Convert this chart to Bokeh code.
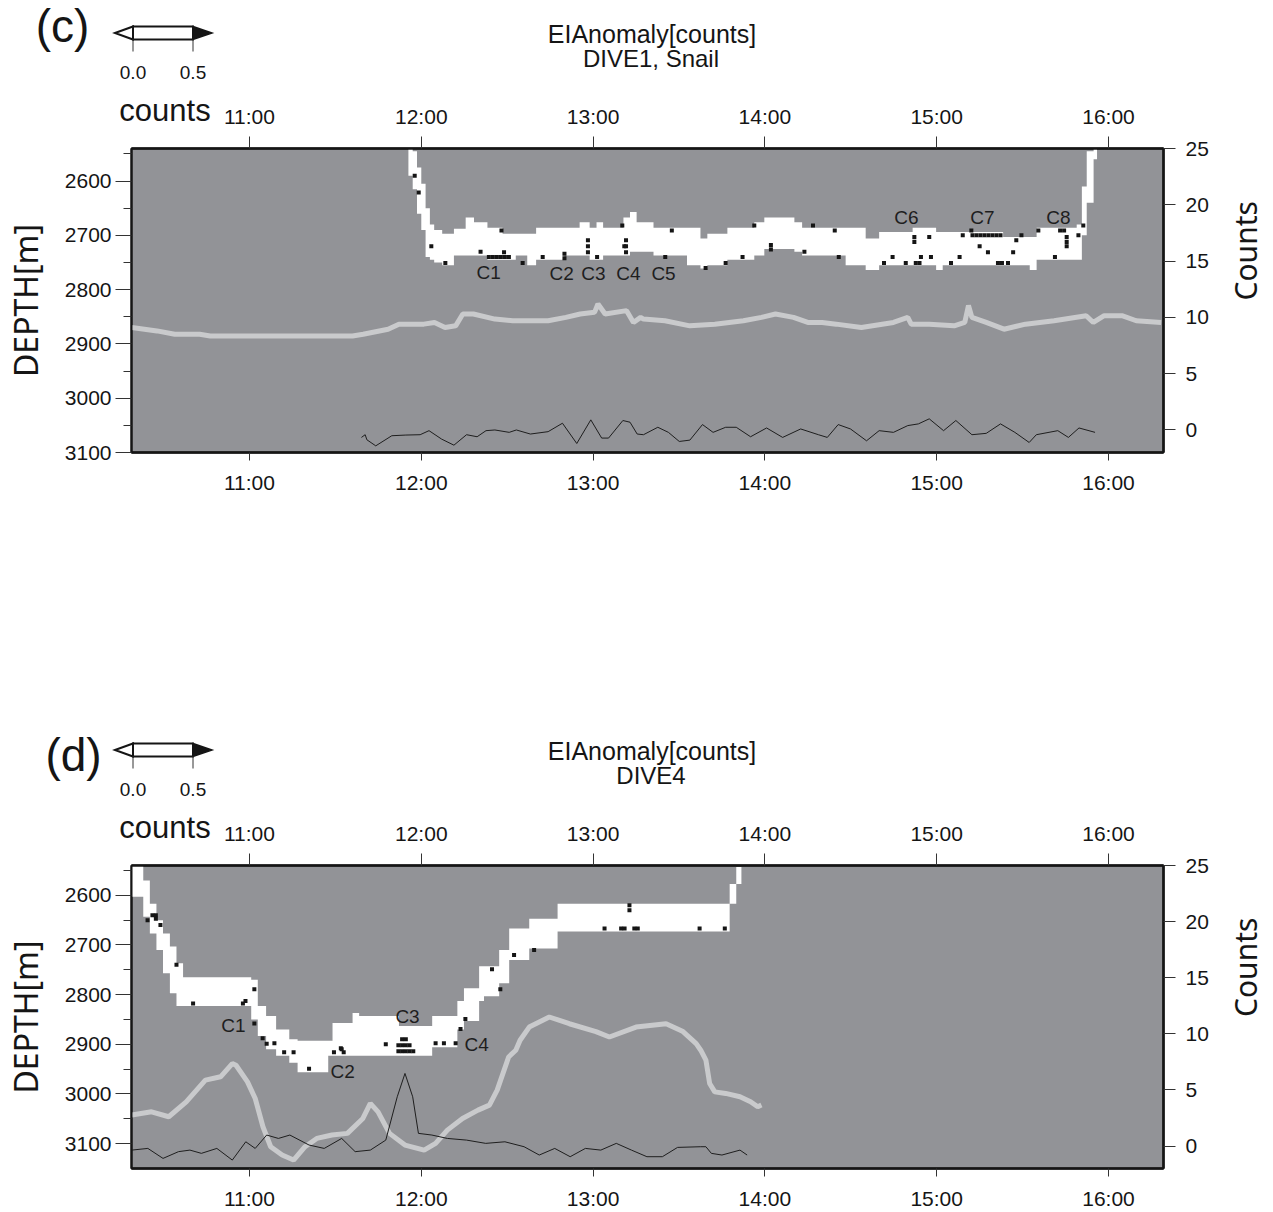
import math
from bokeh.plotting import figure
from bokeh.models import Range1d, LinearAxis, FixedTicker, Div
from bokeh.layouts import column
from bokeh.embed import file_html
from bokeh.resources import INLINE
from bokeh.core.properties import value

# ---------------- data (times are minutes after 10:00) ----------------
tick_hours = [11, 12, 13, 14, 15, 16]
tick_labels = ["11:00", "12:00", "13:00", "14:00", "15:00", "16:00"]
depth_ticks = [2600, 2700, 2800, 2900, 3000, 3100]
depth_minor = [2550, 2650, 2750, 2850, 2950, 3050]
count_ticks = [0, 5, 10, 15, 20, 25]
colorbar_values = [0.0, 0.5]
colorbar_labels = ["0.0", "0.5"]

# Panel (c): DIVE1, Snail
band_c_t = [115.5, 117.0, 118.5, 120.0, 121.5, 123.0, 124.5, 127.3, 131.4, 135.5, 138.4, 143.1, 148.4,
            153.0, 157.0, 160.1, 164.8, 170.0, 175.3, 178.8, 181.2, 183.5, 190.6, 192.9, 195.2, 201.1,
            207.0, 212.8, 217.5, 219.9, 226.9, 236.3, 239.8, 244.5, 250.3, 253.0, 268.2, 275.2, 279.9,
            291.6, 299.8, 302.1, 323.2, 332.5, 334.9, 348.9, 350.7, 352.4, 354.8, 356.0]
band_c_top = [2540, 2545, 2575, 2605, 2650, 2680, 2690, 2697, 2688, 2667, 2676, 2686, 2697, 2697, 2697,
              2686, 2686, 2686, 2676, 2686, 2676, 2686, 2667, 2657, 2676, 2686, 2686, 2686, 2706, 2697,
              2686, 2676, 2667, 2667, 2676, 2686, 2686, 2706, 2694, 2686, 2694, 2694, 2703, 2703, 2686,
              2680, 2610, 2545, 2540, 2540]
band_c_bot = [2590, 2615, 2660, 2690, 2740, 2745, 2750, 2755, 2737, 2737, 2737, 2745, 2745, 2737, 2755,
              2745, 2745, 2737, 2737, 2745, 2745, 2737, 2737, 2730, 2730, 2737, 2737, 2755, 2761, 2755,
              2745, 2737, 2725, 2725, 2730, 2737, 2755, 2764, 2755, 2755, 2764, 2755, 2755, 2764, 2745,
              2745, 2700, 2640, 2560, 2560]
cells_c_m = [117.7, 119.1, 123.5, 128.4, 140.7, 148.0, 148.9, 143.6, 145.0, 146.4, 147.8, 149.2, 150.6,
             155.4, 162.4, 170.0, 170.0, 178.2, 178.2, 178.2, 181.4, 190.2, 190.9, 191.5, 191.5, 191.5,
             205.2, 207.5, 219.3, 226.3, 232.2, 236.3, 242.1, 242.1, 253.8, 256.8,
             264.4, 265.8, 281.6, 284.6, 289.2, 292.7, 294.0, 294.5, 292.2, 292.2, 297.4, 298.0, 305.0,
             308.0, 309.1, 312.1, 312.5, 313.9, 315.3, 316.7, 318.1, 319.5, 320.9, 322.3,
             315.0, 317.9, 321.4, 322.8, 324.9, 326.7, 327.8, 329.6, 335.5, 341.3, 343.1, 344.5, 345.4,
             345.4, 345.4, 349.5, 351.2]
cells_c_d = [2590, 2621, 2720, 2751, 2730, 2691, 2731, 2740, 2740, 2740, 2740, 2740, 2740,
             2751, 2740, 2734, 2742, 2709, 2720, 2731, 2740, 2682, 2720, 2709, 2720, 2731,
             2740, 2691, 2760, 2751, 2740, 2682, 2718, 2726, 2730, 2682,
             2691, 2740, 2751, 2740, 2751, 2751, 2751, 2740, 2703, 2712, 2703, 2740, 2751,
             2740, 2700, 2691, 2700, 2700, 2700, 2700, 2700, 2700, 2700, 2700,
             2720, 2731, 2751, 2751, 2751, 2731, 2709, 2700, 2691, 2740, 2691, 2691, 2703,
             2712, 2720, 2700, 2682]
gray_c_m = [18.9, 27.7, 33.9, 42.6, 46.3, 58.8, 71.2, 83.6, 96.0, 99.7, 108.4, 112.2, 120.9, 124.6,
            128.3, 132.0, 134.5, 138.2, 145.7, 151.9, 158.1, 164.3, 170.5, 175.5, 180.5, 181.7, 184.2,
            191.7, 194.1, 196.6, 197.6, 205.1, 213.8, 222.5, 232.5, 238.8, 243.7, 250.0, 255.0, 260.0,
            264.9, 273.7, 284.9, 289.9, 291.1, 297.4, 306.1, 309.8, 311.1, 312.3, 317.3, 323.5, 331.0,
            341.0, 352.2, 354.7, 358.5, 364.7, 369.7, 378.4]
gray_c_v = [9.1, 8.8, 8.5, 8.5, 8.35, 8.35, 8.35, 8.35, 8.35, 8.5, 8.95, 9.4, 9.4, 9.55,
            9.1, 9.25, 10.3, 10.3, 9.85, 9.7, 9.7, 9.7, 10.0, 10.3, 10.45, 11.2, 10.3,
            10.6, 9.55, 10.0, 9.85, 9.7, 9.25, 9.4, 9.7, 10.0, 10.3, 10.0, 9.55, 9.55,
            9.4, 9.1, 9.55, 10.0, 9.4, 9.4, 9.25, 9.55, 11.05, 10.0, 9.55, 8.95, 9.4,
            9.7, 10.15, 9.55, 10.15, 10.15, 9.7, 9.55]
thin_c_m = [99.1, 100.4, 101.0, 104.1, 109.7, 114.6, 119.6, 122.7, 127.1, 131.4, 135.8, 139.5, 142.6,
            145.7, 150.7, 153.2, 158.1, 164.3, 169.3, 174.3, 179.2, 183.0, 185.4, 190.4, 192.9, 195.4,
            197.6, 202.6, 206.3, 210.1, 213.8, 218.2, 221.9, 226.3, 230.0, 235.0, 240.6, 246.2, 252.5,
            258.7, 261.8, 265.6, 269.9, 275.5, 279.9, 284.9, 289.9, 293.6, 297.4, 302.4, 306.7, 312.3,
            317.3, 322.3, 327.3, 332.3, 334.8, 342.3, 346.0, 349.7, 355.3]
thin_c_v = [-0.66, -0.42, -0.87, -1.41, -0.51, -0.45, -0.42, -0.06, -0.81, -1.35, -0.42, -0.6, -0.06,
            0.0, -0.21, 0.0, -0.36, -0.15, 0.6, -1.2, 0.9, -0.72, -0.72, 0.84, 0.69, -0.36,
            -0.42, 0.24, -0.21, -1.02, -0.9, 0.48, -0.21, 0.24, 0.24, -0.6, 0.18, -0.66, 0.09,
            -0.42, -0.66, 0.48, 0.09, -0.96, -0.06, -0.21, 0.39, 0.54, 0.99, -0.06, 0.84, -0.42,
            -0.3, 0.54, -0.21, -1.11, -0.42, -0.06, -0.66, 0.18, -0.21]
labels_c = ["C1", "C2", "C3", "C4", "C5", "C6", "C7", "C8"]
labels_c_m = [143.5, 169.0, 180.1, 192.3, 204.6, 289.4, 316.0, 342.5]
labels_c_d = [2769, 2770, 2770, 2770, 2770, 2667, 2667, 2667]

# Panel (d): DIVE4
band_d_t = [18.8, 22.9, 25.2, 27.5, 29.8, 32.2, 34.5, 36.8, 60.6, 62.9, 65.8, 69.3, 73.9, 76.8, 87.5,
            89.0, 96.0, 98.3, 112.2, 118.3, 123.8, 125.0, 132.6, 134.9, 140.2, 141.9, 147.2, 150.7,
            157.7, 167.6, 227.7, 230.0, 231.8]
band_d_top = [2540, 2570, 2617, 2650, 2677, 2703, 2737, 2765, 2770, 2823, 2843, 2870, 2890, 2893, 2893,
              2857, 2837, 2843, 2863, 2863, 2843, 2843, 2813, 2787, 2743, 2743, 2710, 2667, 2647, 2617,
              2577, 2543, 2543]
band_d_bot = [2603, 2643, 2677, 2710, 2757, 2797, 2823, 2823, 2850, 2883, 2910, 2923, 2937, 2956, 2923,
              2923, 2923, 2923, 2923, 2923, 2906, 2906, 2870, 2853, 2813, 2803, 2777, 2730, 2707, 2673,
              2617, 2577, 2577]
cells_d_m = [24.4, 26.1, 27.3, 27.3, 28.9, 34.5, 40.3, 57.7, 58.6, 61.7, 61.7, 64.6, 68.7, 91.9, 107.6,
             113.3, 114.6, 112.0, 113.3, 114.6, 115.9, 112.0, 113.3, 114.6, 115.9, 117.2,
             125.0, 127.9, 132.0, 133.7, 135.4, 144.7, 147.6,
             66.0, 72.1, 75.4, 80.8, 89.5, 92.2, 92.9,
             192.7, 192.7, 184.0, 189.8, 191.0, 194.4, 195.6, 217.2, 226.0, 159.4, 152.4]
cells_d_d = [2650, 2640, 2640, 2647, 2660, 2740, 2818, 2818, 2813, 2789, 2858, 2888, 2898, 2908, 2900,
             2890, 2890, 2902, 2902, 2902, 2902, 2914, 2914, 2914, 2914, 2914,
             2898, 2898, 2898, 2869, 2849, 2749, 2789,
             2899, 2916, 2916, 2949, 2916, 2910, 2916,
             2620, 2630, 2667, 2667, 2667, 2667, 2667, 2667, 2667, 2710, 2720]
gray_d_m = [18.9, 25.8, 31.8, 37.9, 44.6, 49.9, 54.0, 55.3, 59.3, 62.0, 64.7, 67.4, 71.4, 75.4, 79.4,
            83.5, 88.8, 94.2, 99.6, 102.2, 104.9, 108.9, 114.3, 121.0, 125.0, 129.1, 134.4, 139.8,
            143.8, 146.5, 150.5, 153.0, 154.5, 157.7, 164.7, 171.7, 181.0, 185.7, 195.0, 205.5, 211.4,
            216.0, 217.6, 219.4, 220.7, 222.5, 226.3, 231.3, 235.0, 237.5, 238.8]
gray_d_v = [2.76, 3.05, 2.61, 3.94, 5.87, 6.17, 7.35, 7.2, 5.72, 4.24, 1.72, -0.06, -0.8, -1.25, -0.06,
            0.68, 0.98, 1.13, 2.46, 3.8, 3.05, 1.13, 0.09, -0.36, 0.24, 1.42, 2.46, 3.2,
            3.65, 4.98, 7.94, 8.54, 9.43, 10.6, 11.5, 10.9, 10.2, 9.72, 10.6, 10.9, 10.2,
            9.13, 8.54, 7.65, 5.58, 4.83, 4.69, 4.39, 3.95, 3.5, 3.65]
thin_d_m = [18.9, 24.5, 29.8, 35.2, 39.2, 43.2, 48.6, 54.0, 58.7, 62.0, 66.0, 70.1, 74.1, 80.8, 86.1,
            92.2, 96.9, 102.2, 107.6, 111.6, 114.3, 117.0, 119.0, 123.7, 129.1, 135.8, 142.5, 149.2,
            155.9, 161.2, 166.6, 172.0, 177.3, 182.7, 188.1, 193.4, 198.8, 204.2, 209.5, 217.6, 219.4,
            221.3, 225.0, 231.3, 233.8]
thin_d_v = [-0.36, -0.21, -1.1, -0.5, -0.36, -0.65, -0.21, -1.25, 0.38, -0.21, 0.98, 0.68, 0.98, 0.09,
            -0.21, 0.68, -0.5, -0.36, 0.53, 4.39, 6.47, 4.39, 1.13, 0.98, 0.68, 0.53, 0.24, 0.38,
            -0.06, -0.8, -0.21, -0.95, -0.21, -0.36, 0.24, -0.36, -0.95, -0.95, -0.12, -0.06, -0.06,
            -0.65, -0.8, -0.36, -0.8]
labels_d = ["C1", "C2", "C3", "C4"]
labels_d_m = [54.4, 92.5, 115.2, 139.3]
labels_d_d = [2862, 2955, 2844, 2900]

# ---------------- styling ----------------
BG = "#929397"
LIGHT = "#c9cacc"
INK = "#151515"
HELV = "Liberation Sans"
HUMAN = "Noto Sans"
X0, X1 = 10.3132, 16.3202
PAGE_W = 1273
COUNTS_TICK = 10.508     # x position (hours) of the "counts" caption on the top axis
COUNTS_MID = 11.9        # y position (counts) of the right-hand "Counts" caption


def hrs(mins):
    return [10 + m / 60.0 for m in mins]


def txt(s, cx, cy, size, font):
    return (f'<div style="position:absolute;left:{cx}px;top:{cy}px;transform:translate(-50%,-50%);'
            f"font-family:'{font}';font-size:{size}px;line-height:1;white-space:nowrap;color:{INK}\">{s}</div>")


def header(tag, tag_cx, tag_cy, subtitle):
    bx0, bx1 = 133, 193
    yt, yb = 26.5, 39.5
    ym = (yt + yb) / 2
    span = (bx1 - bx0) / (colorbar_values[1] - colorbar_values[0])
    cx = [bx0 + (v - colorbar_values[0]) * span for v in colorbar_values]
    ticks = "".join(f'<line x1="{x}" x2="{x}" y1="{yb}" y2="{yb + 12}" stroke="#333" stroke-width="1"/>' for x in cx)
    svg = (f'<svg width="240" height="60" style="position:absolute;left:0;top:0;overflow:visible">'
           f'<polygon points="115,{ym} {bx0},{yt} {bx0},{yb}" fill="white" stroke="{INK}" stroke-width="2"/>'
           f'<rect x="{bx0}" y="{yt}" width="{bx1 - bx0}" height="{yb - yt}" fill="white" stroke="{INK}" stroke-width="2"/>'
           f'<polygon points="{bx1},{yt} 212,{ym} {bx1},{yb}" fill="{INK}" stroke="{INK}" stroke-width="1.5"/>'
           f'{ticks}</svg>')
    parts = [svg, txt(tag, tag_cx, tag_cy, 46, HELV)]
    parts += [txt(l, x, 71.5, 19, HELV) for l, x in zip(colorbar_labels, cx)]
    parts.append(txt("EIAnomaly[counts]", 652, 33.5, 25, HELV))
    parts.append(txt(subtitle, 651, 59, 24, HELV))
    html = f'<div style="position:relative;width:{PAGE_W}px;height:86px">{"".join(parts)}</div>'
    return Div(text=html, width=PAGE_W, height=86, margin=(0, 0, 0, 0))


def panel(depth_bottom, frame_h, border_bottom,
          band_t, band_top, band_bot, cm, cd, cell_h, gm, gv, tm, tv, lab, lm, ld):
    p = figure(frame_width=1032, frame_height=frame_h,
               x_range=Range1d(X0, X1), y_range=Range1d(depth_bottom, 2540),
               output_backend="svg", toolbar_location=None,
               min_border_left=131, min_border_right=110, min_border_top=62,
               min_border_bottom=border_bottom,
               background_fill_color=BG, border_fill_color="white")
    p.extra_y_ranges = {"counts": Range1d(-2, 25)}
    p.grid.visible = False
    p.outline_line_color = INK
    p.outline_line_width = 2

    p.varea_step(x=hrs(band_t), y1=band_top, y2=band_bot, step_mode="after", fill_color="white")
    p.rect(x=hrs(cm), y=cd, width=1.4 / 60, height=cell_h, fill_color=INK, line_color=None)
    p.line(hrs(gm), gv, y_range_name="counts", line_color=LIGHT, line_width=5)
    p.line(hrs(tm), tv, y_range_name="counts", line_color="#1e1e1e", line_width=1)
    p.text(x=hrs(lm), y=ld, text=lab, text_font=value(HELV), text_font_size="19px",
           text_align="center", text_baseline="middle", text_color="#1e1e1e")

    overrides = {t: l for t, l in zip(tick_hours, tick_labels)}

    def style(ax, tick_out, standoff, width=2.5, size="21px", font=HELV):
        ax.major_tick_out = tick_out
        ax.major_tick_in = 0
        ax.minor_tick_in = 0
        ax.major_tick_line_color = "#333333"
        ax.major_tick_line_width = 1
        ax.axis_line_color = INK
        ax.axis_line_width = width
        ax.major_label_standoff = standoff
        ax.major_label_text_font = font
        ax.major_label_text_font_size = size
        ax.major_label_text_color = INK

    xb = p.xaxis[0]
    xb.ticker = FixedTicker(ticks=tick_hours)
    xb.major_label_overrides = overrides
    xb.minor_tick_line_color = None
    style(xb, 8, 10)

    xt = LinearAxis(ticker=FixedTicker(ticks=tick_hours), major_label_overrides=overrides)
    xt.minor_tick_line_color = None
    style(xt, 12, 9)
    p.add_layout(xt, "above")

    # "counts" caption beside the top time labels
    xc = LinearAxis(ticker=FixedTicker(ticks=[COUNTS_TICK]), major_label_overrides={COUNTS_TICK: "counts"})
    style(xc, 0, -26, size="31px")
    xc.axis_line_color = None
    xc.major_tick_line_color = None
    xc.minor_tick_line_color = None
    p.add_layout(xc, "above")

    yl = p.yaxis[0]
    yl.ticker = FixedTicker(ticks=depth_ticks, minor_ticks=depth_minor)
    yl.minor_tick_out = 8
    yl.minor_tick_line_color = "#333333"
    style(yl, 16, 4, 2)
    yl.axis_label = "DEPTH[m]"
    yl.axis_label_text_font = HUMAN
    yl.axis_label_text_font_size = "32px"
    yl.axis_label_text_font_style = "normal"
    yl.axis_label_text_color = INK
    yl.axis_label_standoff = 15

    yr = LinearAxis(y_range_name="counts", ticker=FixedTicker(ticks=count_ticks))
    yr.minor_tick_line_color = None
    style(yr, 12, 10)
    p.add_layout(yr, "right")

    as_axis_label = True
    try:
        yr.axis_label_orientation = math.pi / 2
    except Exception:
        as_axis_label = False
    if as_axis_label:
        yr.axis_label = "Counts"
        yr.axis_label_text_font = HUMAN
        yr.axis_label_text_font_size = "30px"
        yr.axis_label_text_font_style = "normal"
        yr.axis_label_text_color = INK
        yr.axis_label_standoff = 34
    else:
        yc = LinearAxis(y_range_name="counts", ticker=FixedTicker(ticks=[COUNTS_MID]),
                        major_label_overrides={COUNTS_MID: "Counts"}, major_label_orientation=math.pi / 2)
        style(yc, 0, 36, size="30px", font=HUMAN)
        yc.axis_line_color = None
        yc.major_tick_line_color = None
        yc.minor_tick_line_color = None
        p.add_layout(yc, "right")
    return p


hc = header("(c)", 62.5, 26.1, "DIVE1, Snail")
pc = panel(3100, 304, 265,
           band_c_t, band_c_top, band_c_bot, cells_c_m, cells_c_d, 7.4,
           gray_c_m, gray_c_v, thin_c_m, thin_c_v, labels_c, labels_c_m, labels_c_d)
hd = header("(d)", 73.5, 38.1, "DIVE4")
pd = panel(3150, 303, 44,
           band_d_t, band_d_top, band_d_bot, cells_d_m, cells_d_d, 8.0,
           gray_d_m, gray_d_v, thin_d_m, thin_d_v, labels_d, labels_d_m, labels_d_d)

layout = column(hc, pc, hd, pd)
open("out.html", "w").write(file_html(layout, INLINE))
